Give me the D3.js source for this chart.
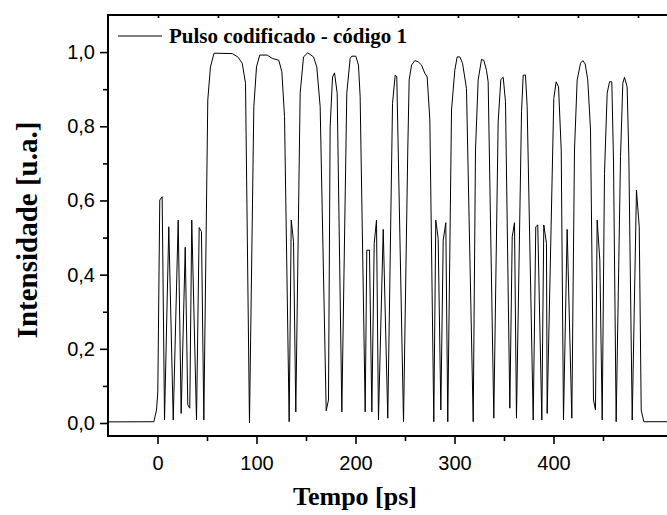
<!DOCTYPE html>
<html>
<head>
<meta charset="utf-8">
<script src="https://cdn.jsdelivr.net/npm/d3@7"></script>
<style>
  html, body { margin: 0; padding: 0; background: #fff; }
  svg { display: block; }
</style>
</head>
<body>
<svg id="chart" width="667" height="515"></svg>
<script>
// ---- Data ----
const time = [-50, -3.7, -1.0, 0.3, 2.3, 4.7, 7.1, 11.4, 15.9, 20.9, 23.9, 28.0, 30.6, 32.6, 34.6, 39.4, 42.1, 44.4, 46.8,
  50.8, 53.5, 57.1, 75.5, 81.1, 85.6, 88.9, 92.9,
  97.3, 100.0, 103.3, 110.8, 115.9, 122.5, 125.6, 128.3, 133.0,
  135.1, 137.4, 139.7,
  144.1, 147.5, 151.8, 157.6, 160.9, 164.3, 170.4, 172.7,
  174.4, 176.8, 178.8, 181.5, 186.2,
  191.2, 194.6, 196.3, 200.3, 203.0, 204.7, 209.8,
  211.4, 214.1, 216.5, 218.9, 221.2, 223.2, 228.0, 232.6,
  237.4, 240.1, 241.7, 248.5,
  252.8, 254.2, 256.6, 259.9, 263.3, 266.7, 270.0, 272.4, 275.1, 279.1,
  281.1, 283.5, 286.2, 288.6, 291.2, 293.2,
  297.0, 300.3, 302.7, 305.4, 308.1, 312.1, 318.9,
  321.2, 323.9, 327.3, 329.6, 332.3, 334.0, 339.7,
  344.1, 346.8, 349.2, 351.5, 355.9,
  358.3, 360.6, 362.6,
  367.7, 369.4, 371.7, 373.4, 379.5,
  382.1, 384.1, 388.2, 390.2, 392.9, 393.6,
  400.3, 402.7, 405.1, 407.8, 410.1,
  413.8, 418.5,
  421.2, 423.9, 427.3, 429.6, 432.0, 434.6, 437.4, 440.4, 442.4,
  444.1, 446.8, 449.2,
  451.5, 454.2, 456.6, 458.9, 460.6, 463.3,
  467.7, 470.0, 471.7, 474.4, 476.1, 479.5,
  483.8, 486.6, 488.6, 491.2, 530];
const intensity = [0.003, 0.0035, 0.035, 0.084, 0.601, 0.61, 0.008, 0.529, 0.008, 0.547, 0.026, 0.474, 0.049, 0.040, 0.547, 0.008, 0.527, 0.516, 0.008,
  0.871, 0.960, 0.997, 0.996, 0.987, 0.970, 0.916, 0.0,
  0.853, 0.960, 0.992, 0.992, 0.983, 0.978, 0.947, 0.826, 0.0035,
  0.547, 0.489, 0.030,
  0.889, 0.987, 0.998, 0.987, 0.960, 0.853, 0.033, 0.062,
  0.799, 0.933, 0.944, 0.889, 0.030,
  0.889, 0.983, 0.989, 0.989, 0.965, 0.880, 0.030,
  0.466, 0.466, 0.030, 0.484, 0.547, 0.008, 0.522, 0.013,
  0.862, 0.938, 0.933, 0.0035,
  0.736, 0.925, 0.965, 0.977, 0.974, 0.965, 0.943, 0.933, 0.817, 0.0035,
  0.547, 0.498, 0.035, 0.493, 0.540, 0.0035,
  0.844, 0.951, 0.987, 0.987, 0.970, 0.902, 0.0035,
  0.736, 0.925, 0.980, 0.978, 0.951, 0.920, 0.013,
  0.812, 0.926, 0.932, 0.866, 0.040,
  0.502, 0.540, 0.013,
  0.839, 0.938, 0.938, 0.853, 0.008,
  0.529, 0.534, 0.008, 0.534, 0.484, 0.026,
  0.875, 0.920, 0.906, 0.736, 0.008,
  0.522, 0.013,
  0.736, 0.925, 0.970, 0.977, 0.968, 0.925, 0.790, 0.062, 0.035,
  0.547, 0.439, 0.008,
  0.673, 0.889, 0.920, 0.920, 0.709, 0.0035,
  0.718, 0.916, 0.932, 0.906, 0.718, 0.008,
  0.628, 0.529, 0.035, 0.0035, 0.0035];

const xMajorTicks = [0, 100, 200, 300, 400];
const xMinorTicks = [50, 150, 250, 350, 450];
const yMajorTicks = [0.0, 0.2, 0.4, 0.6, 0.8, 1.0];
const yMinorTicks = [0.1, 0.3, 0.5, 0.7, 0.9];
const topTicks = [0, 1, 2, 3, 4, 5, 6, 7, 8];

const seriesName = "Pulso codificado - código 1";
const xTitle = "Tempo [ps]";
const yTitle = "Intensidade [u.a.]";

// ---- Layout ----
const svg = d3.select("#chart");
const mLeft = 108, mRight = 672.3, mTop = 15, mBottom = 436;

const x = d3.scaleLinear().domain([-50, 520]).range([mLeft, mRight]);
const y = d3.scaleLinear().domain([-0.035, 1.1]).range([mBottom, mTop]);
const xTop = d3.scaleLinear().domain([0, 1]).range([158, 218]);

const fmt = d => d3.format(".1f")(d).replace(".", ",");

svg.append("clipPath").attr("id", "plotclip")
  .append("rect").attr("x", mLeft).attr("y", mTop).attr("width", mRight - mLeft).attr("height", mBottom - mTop);

// data line
const pts = time.map((t, i) => [t, intensity[i]]);
svg.append("path")
  .datum(pts)
  .attr("clip-path", "url(#plotclip)")
  .attr("fill", "none")
  .attr("stroke", "#000")
  .attr("stroke-width", 1)
  .attr("d", d3.line().x(d => x(d[0])).y(d => y(d[1])));

// bottom axis
const gxMinor = svg.append("g").attr("transform", `translate(0,${mBottom})`)
  .call(d3.axisBottom(x).tickValues(xMinorTicks).tickSize(5).tickFormat(""));
const gx = svg.append("g").attr("transform", `translate(0,${mBottom})`)
  .call(d3.axisBottom(x).tickValues(xMajorTicks).tickSize(8).tickPadding(12).tickFormat(d3.format("d")));

// left axis
const gyMinor = svg.append("g").attr("transform", `translate(${mLeft},0)`)
  .call(d3.axisLeft(y).tickValues(yMinorTicks).tickSize(5).tickFormat(""));
const gy = svg.append("g").attr("transform", `translate(${mLeft},0)`)
  .call(d3.axisLeft(y).tickValues(yMajorTicks).tickSize(8).tickPadding(5).tickFormat(fmt));

// top axis (inward ticks)
const gt = svg.append("g").attr("transform", `translate(0,${mTop})`)
  .call(d3.axisBottom(xTop).tickValues(topTicks).tickSize(3).tickFormat(""));

[gx, gxMinor, gy, gyMinor, gt].forEach(g => {
  g.select(".domain").remove();
  g.selectAll(".tick line").attr("stroke", "#000").attr("stroke-width", 1.6);
  g.selectAll("text").attr("font-family", "Liberation Sans, Arial, sans-serif")
    .attr("font-size", 20).attr("fill", "#000");
});

// frame lines
svg.append("line").attr("x1", mLeft).attr("x2", 667).attr("y1", mBottom).attr("y2", mBottom)
  .attr("stroke", "#000").attr("stroke-width", 2);
svg.append("line").attr("x1", mLeft).attr("x2", 667).attr("y1", mTop).attr("y2", mTop)
  .attr("stroke", "#000").attr("stroke-width", 2);
svg.append("line").attr("x1", mLeft).attr("x2", mLeft).attr("y1", mTop - 1).attr("y2", mBottom + 1)
  .attr("stroke", "#000").attr("stroke-width", 2);

// legend
svg.append("line").attr("x1", 118).attr("x2", 162).attr("y1", 36).attr("y2", 36)
  .attr("stroke", "#000").attr("stroke-width", 1);
svg.append("text").attr("x", 169).attr("y", 43)
  .attr("font-family", "Liberation Serif, Times New Roman, serif")
  .attr("font-weight", "bold").attr("font-size", 21)
  .text(seriesName);

// axis titles
svg.append("text").attr("x", 355).attr("y", 505)
  .attr("text-anchor", "middle")
  .attr("font-family", "Liberation Serif, Times New Roman, serif")
  .attr("font-weight", "bold").attr("font-size", 26)
  .text(xTitle);
svg.append("text")
  .attr("transform", `translate(37,230) rotate(-90)`)
  .attr("text-anchor", "middle")
  .attr("font-family", "Liberation Serif, Times New Roman, serif")
  .attr("font-weight", "bold").attr("font-size", 29)
  .text(yTitle);
</script>
</body>
</html>
